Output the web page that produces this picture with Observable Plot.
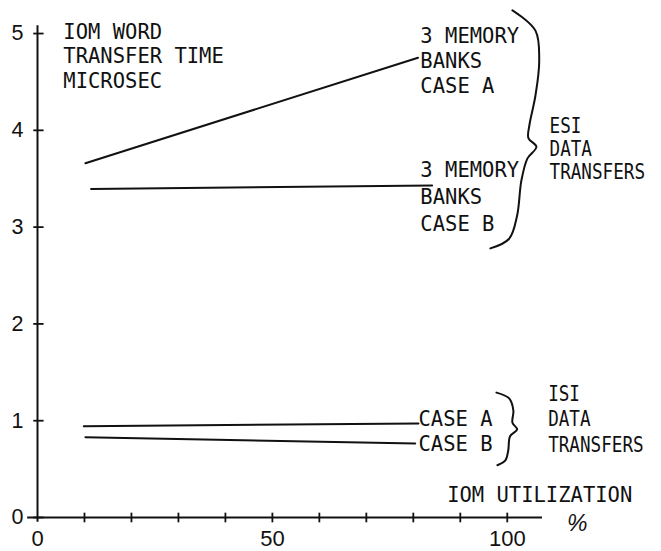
<!DOCTYPE html>
<html>
<head>
<meta charset="utf-8">
<script src="https://cdn.jsdelivr.net/npm/d3@7"></script>
<script src="https://cdn.jsdelivr.net/npm/@observablehq/plot@0.6"></script>
<style>
  body { margin: 0; background: #fff; }
  #chart svg { display: block; background: #fff; }
</style>
</head>
<body>
<div id="chart"></div>
<script>
// ---- data ----
const seriesNames = ["ESI case A", "ESI case B", "ISI case A", "ISI case B"];
const startUtil   = [10.2, 11.4, 9.85, 10.2];   // IOM utilization, %
const endUtil     = [81.0, 84.0, 81.1, 80.4];
const startTime   = [3.66, 3.395, 0.943, 0.83]; // word transfer time, microsec
const endTime     = [4.75, 3.43, 0.971, 0.764];

const xTickValues = [0, 10, 20, 30, 40, 50, 60, 70, 80, 90, 100];
const xTickLabels = ["0", "50", "100"];
const yTickValues = [0, 1, 2, 3, 4, 5];
const yTickLabels = ["0", "1", "2", "3", "4", "5"];

// brace outlines (data units: % , microsec)
const esiBraceX = [101.1, 106.0, 106.8, 106.0, 104.7, 104.5, 106.2, 104.3, 103.0, 102.1, 100.4, 96.4];
const esiBraceY = [5.24, 5.03, 4.72, 4.36, 4.05, 3.92, 3.83, 3.71, 3.48, 3.12, 2.88, 2.78];
const isiBraceX = [97.7, 100.4, 101.3, 101.1, 102.1, 100.6, 100.2, 99.6, 97.9];
const isiBraceY = [1.29, 1.23, 1.105, 0.98, 0.91, 0.84, 0.69, 0.59, 0.54];

// annotation texts
const noteTexts = [
  "IOM WORD\nTRANSFER TIME\nMICROSEC",
  "3 MEMORY\nBANKS\nCASE A",
  "3 MEMORY\nBANKS\nCASE B",
  "CASE A\nCASE B",
  "IOM UTILIZATION"
];
const groupTexts = ["ESI\nDATA\nTRANSFERS", "ISI\nDATA\nTRANSFERS"];

// ---- layout of annotations (anchor of last line baseline, in data units) ----
const noteLayout = [
  {x: 5.5,  y: 4.44,  lh: 1.2},
  {x: 81.5, y: 4.39,  lh: 1.2},
  {x: 81.5, y: 2.955, lh: 1.34},
  {x: 81.1, y: 0.69,  lh: 1.22},
  {x: 87.2, y: 0.165, lh: 1}
];
const groupLayout = [
  {x: 109.0, y: 3.50, lh: 1.12},
  {x: 108.7, y: 0.68, lh: 1.24}
];

// ---- build tables ----
const lineRows = seriesNames.flatMap((s, i) => [
  {series: s, util: startUtil[i], time: startTime[i]},
  {series: s, util: endUtil[i],   time: endTime[i]}
]);
const braceRows = [
  ...esiBraceX.map((x, i) => ({b: "ESI", x, y: esiBraceY[i]})),
  ...isiBraceX.map((x, i) => ({b: "ISI", x, y: isiBraceY[i]}))
];
const xLabelRows = xTickLabels.map(t => ({v: +t, t}));
const yLabelRows = yTickLabels.map(t => ({v: +t, t}));

const INK = "#111";
const MONO = "DejaVu Sans Mono, monospace";
const SANS = "Liberation Sans, Arial, sans-serif";

const marks = [
  // axes
  Plot.ruleX([0], {y1: -0.05, y2: 5.08, stroke: INK, strokeWidth: 2}),
  Plot.ruleY([0], {x1: -2.1, x2: 107.5, stroke: INK, strokeWidth: 2}),
  Plot.link(yTickValues, {x1: -0.9, x2: 1.3, y1: d => d, y2: d => d, stroke: INK, strokeWidth: 1.8}),
  Plot.link(xTickValues.filter(d => d > 0), {x1: d => d, x2: d => d, y1: -0.05, y2: 0.05, stroke: INK, strokeWidth: 1.8}),
  Plot.text(yLabelRows, {x: 0, y: "v", text: "t", dx: -14, textAnchor: "end", fontSize: 21.5, fontFamily: SANS, fill: INK}),
  Plot.text(xLabelRows, {x: "v", y: 0, text: "t", dy: 21, fontSize: 22, fontFamily: SANS, fill: INK}),
  // data lines
  Plot.line(lineRows, {x: "util", y: "time", z: "series", stroke: INK, strokeWidth: 2}),
  // braces
  Plot.line(braceRows, {x: "x", y: "y", z: "b", curve: "catmull-rom", stroke: INK, strokeWidth: 2}),
  // annotations
  ...noteTexts.map((t, i) => Plot.text([t], {
    x: noteLayout[i].x, y: noteLayout[i].y, text: d => d,
    textAnchor: "start", lineAnchor: "bottom", lineHeight: noteLayout[i].lh,
    fontSize: 20.5, fontFamily: MONO, fill: INK
  })),
  ...groupTexts.map((t, i) => Plot.text([t], {
    x: groupLayout[i].x, y: groupLayout[i].y, text: d => d,
    textAnchor: "start", lineAnchor: "bottom", lineHeight: groupLayout[i].lh,
    fontSize: 20.5, fontFamily: MONO, fill: INK
  })),
  Plot.text(["%"], {x: 114.9, y: -0.14, text: d => d, lineAnchor: "bottom",
    fontSize: 23, fontStyle: "italic", fontFamily: SANS, fill: INK})
];

const chart = Plot.plot({
  width: 661,
  height: 551,
  marginLeft: 37,
  marginRight: 119,
  marginTop: 25.3,
  marginBottom: 34,
  x: {domain: [0, 107.5], axis: null},
  y: {domain: [0, 5.08], axis: null},
  style: {background: "#fff", color: INK},
  marks
});

// compress group labels horizontally (narrow lettering in the reference)
d3.select(chart).selectAll("text").each(function () {
  if (this.textContent.includes("TRANSFERS")) {
    const t = this.getAttribute("transform");
    if (t) this.setAttribute("transform", t + " scale(0.86,1)");
    else {
      const x = +this.getAttribute("x") || 0;
      this.setAttribute("transform", `translate(${x},0) scale(0.86,1) translate(${-x},0)`);
    }
  }
});

document.getElementById("chart").append(chart);
</script>
</body>
</html>
